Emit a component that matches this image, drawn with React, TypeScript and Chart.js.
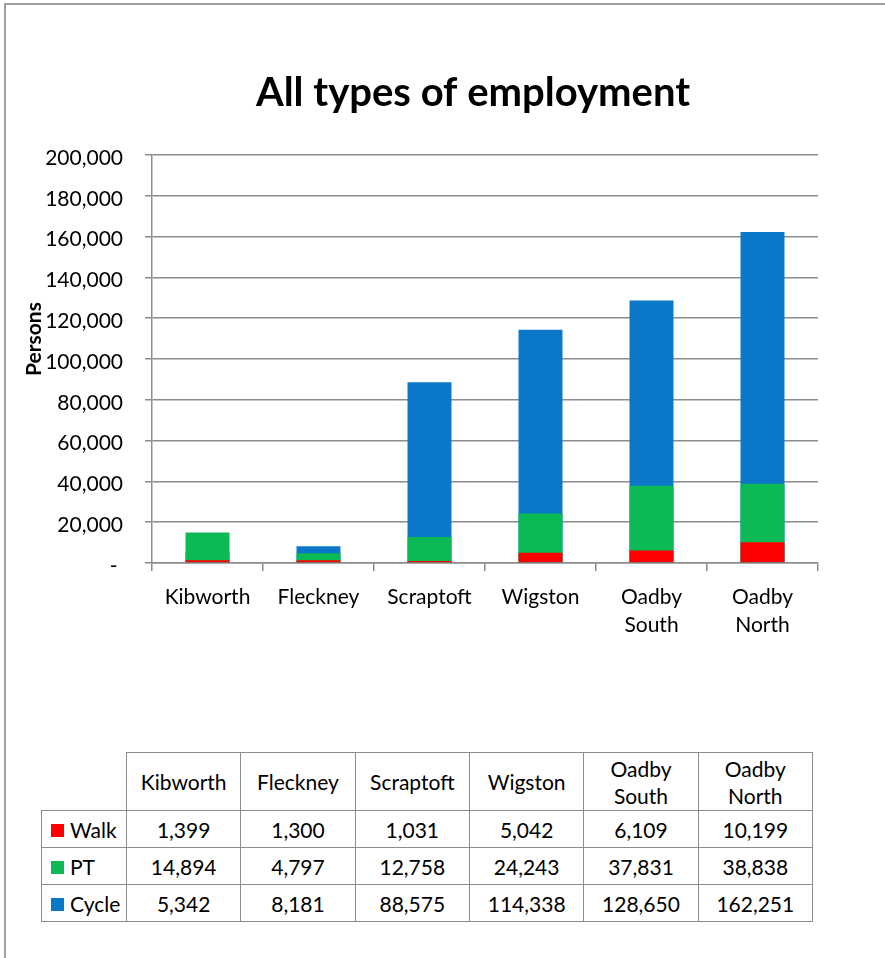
import React, { useEffect, useRef } from 'react';
import { Chart, registerables } from 'chart.js';

Chart.register(...registerables);

const chartTitle = 'All types of employment';
const yAxisTitle = 'Persons';
const categories: string[][] = [
  ['Kibworth'],
  ['Fleckney'],
  ['Scraptoft'],
  ['Wigston'],
  ['Oadby', 'South'],
  ['Oadby', 'North'],
];
const seriesNames = ['Walk', 'PT', 'Cycle'];
const walk = [1399, 1300, 1031, 5042, 6109, 10199];
const pt = [14894, 4797, 12758, 24243, 37831, 38838];
const cycle = [5342, 8181, 88575, 114338, 128650, 162251];
const seriesColors = ['#ff0000', '#0bba55', '#0b77c9'];
const yMin = 0;
const yMax = 200000;
const yStep = 20000;

const FONT = 'Lato, "Open Sans", "DejaVu Sans", sans-serif';
const GRID = '#8c8c8c';

const fmt = (v: number) => v.toLocaleString('en-US');

const textPlugin = {
  id: 'customText',
  afterDraw(chart: any) {
    const ctx = chart.ctx;
    ctx.save();
    ctx.fillStyle = '#000';
    ctx.font = `bold 40px ${FONT}`;
    ctx.textAlign = 'center';
    ctx.textBaseline = 'alphabetic';
    ctx.fillText(chartTitle, 473, 106);
    ctx.translate(34, 339);
    ctx.rotate(-Math.PI / 2);
    ctx.font = `bold 21px ${FONT}`;
    ctx.textBaseline = 'middle';
    ctx.fillText(yAxisTitle, 0, 0);
    ctx.restore();
  },
};

function ChartCanvas() {
  const ref = useRef<HTMLCanvasElement>(null);
  useEffect(() => {
    if (!ref.current) return;
    const seriesData = [walk, pt, cycle];
    const chart = new Chart(ref.current, {
      type: 'bar',
      data: {
        labels: categories,
        datasets: seriesNames.map((name, i) => ({
          label: name,
          data: seriesData[i],
          backgroundColor: seriesColors[i],
          borderWidth: 0,
          categoryPercentage: 1,
          barPercentage: 0.396,
        })),
      },
      options: {
        responsive: false,
        animation: false,
        layout: { padding: { left: 0, top: 155, right: 67, bottom: 0 } },
        plugins: {
          legend: { display: false },
          tooltip: { enabled: false },
          title: { display: false },
        },
        scales: {
          x: {
            stacked: true,
            grid: {
              drawOnChartArea: false,
              drawTicks: true,
              tickLength: 8,
              color: GRID,
              lineWidth: 1.5,
            },
            border: { color: GRID, width: 1.5 },
            ticks: {
              color: '#000',
              font: { family: FONT, size: 21, lineHeight: 1.33 },
              padding: 12,
              maxRotation: 0,
              autoSkip: false,
            },
            afterFit: (s: any) => {
              s.height = 700 - 563;
            },
          },
          y: {
            stacked: false,
            min: yMin,
            max: yMax,
            ticks: {
              stepSize: yStep,
              color: '#000',
              font: { family: FONT, size: 21 },
              padding: 22,
              labelOffset: 3,
              callback: (v: any) => (Number(v) === 0 ? '- ' : fmt(Number(v))),
            },
            grid: {
              color: GRID,
              lineWidth: 1.5,
              drawTicks: true,
              tickLength: 7,
            },
            border: { color: GRID, width: 1.5 },
            afterFit: (s: any) => {
              s.width = 152;
            },
          },
        },
      },
      plugins: [textPlugin],
    });
    return () => chart.destroy();
  }, []);
  return (
    <canvas
      ref={ref}
      width={885}
      height={700}
      style={{ position: 'absolute', left: 0, top: 0, width: 885, height: 700 }}
    />
  );
}

function DataTable() {
  const seriesData = [walk, pt, cycle];
  const border = `1.5px solid ${GRID}`;
  const cell: React.CSSProperties = {
    border,
    padding: 0,
    textAlign: 'center',
    verticalAlign: 'middle',
    lineHeight: '27px',
  };
  return (
    <table
      style={{
        position: 'absolute',
        left: 41,
        top: 752,
        borderCollapse: 'collapse',
        tableLayout: 'fixed',
        width: 771,
        fontFamily: FONT,
        fontSize: 21,
        color: '#000',
      }}
    >
      <colgroup>
        <col style={{ width: 85 }} />
        {categories.map((_, i) => (
          <col key={i} style={{ width: 114.33 }} />
        ))}
      </colgroup>
      <tbody>
        <tr style={{ height: 58 }}>
          <td style={{ ...cell, borderTop: 'none', borderLeft: 'none' }} />
          {categories.map((c, i) => (
            <td key={i} style={cell}>
              {c.map((line, j) => (
                <div key={j}>{line}</div>
              ))}
            </td>
          ))}
        </tr>
        {seriesNames.map((name, si) => (
          <tr key={name} style={{ height: 37 }}>
            <td style={{ ...cell, textAlign: 'left', whiteSpace: 'nowrap' }}>
              <span
                style={{
                  display: 'inline-block',
                  width: 13,
                  height: 13,
                  background: seriesColors[si],
                  marginLeft: 9,
                  marginRight: 6,
                  verticalAlign: 'middle',
                  position: 'relative',
                  top: -2,
                }}
              />
              {name}
            </td>
            {seriesData[si].map((v, i) => (
              <td key={i} style={cell}>
                {fmt(v)}
              </td>
            ))}
          </tr>
        ))}
      </tbody>
    </table>
  );
}

export default function App() {
  return (
    <div
      style={{
        position: 'absolute',
        left: 0,
        top: 0,
        width: 885,
        height: 958,
        background: '#fff',
        overflow: 'hidden',
      }}
    >
      <div
        style={{
          position: 'absolute',
          left: 4,
          top: 3,
          width: 900,
          height: 1000,
          borderLeft: '2px solid #a0a0a0',
          borderTop: '2px solid #a0a0a0',
        }}
      />
      <ChartCanvas />
      <DataTable />
    </div>
  );
}
